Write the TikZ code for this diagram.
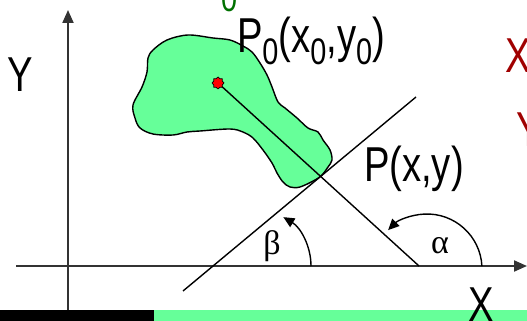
\documentclass[tikz,border=0pt]{standalone}
\usepackage{fontspec}
\usepackage{graphicx}
\setmainfont{Liberation Sans}
\newfontfamily\grk{Liberation Serif}
\usetikzlibrary{arrows.meta,shapes.geometric}
\definecolor{blobgreen}{HTML}{66FF99}
\definecolor{darkred}{HTML}{A00000}
\definecolor{darkgreen}{HTML}{007000}
\newcommand{\bigtxt}[1]{\scalebox{0.78}[1]{\fontsize{49}{49}\selectfont #1}}
\newcommand{\subzero}{\raisebox{-12pt}{\fontsize{37}{37}\selectfont 0}}
\tikzset{
  axis/.style={line width=2pt, draw=black!80, -{Triangle[length=13pt,width=11pt]}},
  thinline/.style={line width=1.4pt, draw=black},
  arcarrow/.style={line width=1.4pt, -{Triangle[length=11pt,width=10pt]}},
  blob/.style={fill=blobgreen, draw=black, line width=1.4pt},
  lbl/.style={inner sep=0pt, outer sep=0pt, anchor=base west},
  grklbl/.style={inner sep=0pt, font=\grk\fontsize{34}{34}\selectfont},
  reddot/.style={star, star points=8, star point ratio=1.3, fill=red, draw=black, line width=0.7pt, minimum size=12pt, inner sep=0pt}
}
\begin{document}
\begin{tikzpicture}[x=1pt,y=1pt]
\useasboundingbox (0,0) rectangle (527,321);
% coordinates
\coordinate (yb) at (68,11);
\coordinate (yt) at (68,311);
\coordinate (xl) at (16,55);
\coordinate (xr) at (527,55);
\coordinate (b1) at (183,30);
\coordinate (b2) at (416,224);
\coordinate (a2) at (419,55);
\coordinate (cb) at (254,55);
\coordinate (ca) at (427,52);
% blob
\draw[blob] plot[smooth cycle, tension=0.55] coordinates {
(167,281) (188,286) (213,283) (230,281) (243,275) (252,269) (260,258) (267,246)
(272,234) (278,219) (285,213) (297,203) (308,193) (318,189) (323,181) (330,171)
(332,161) (328,154) (322,146) (315,141) (300,134) (290,134) (283,139) (277,148)
(272,158) (263,171) (253,183) (243,189) (230,192) (200,190) (187,189) (173,186)
(153,187) (140,193) (135,203) (133,216) (142,234) (147,249) (148,263) (153,271)};
% axes
\draw[axis] (yb) -- (yt);
\draw[axis] (xl) -- (xr);
% lines
\draw[thinline] (b1) -- (b2);
\coordinate (p0c) at (218,238);
\draw[thinline] (p0c) -- (a2);
\node[reddot] (p0) at (p0c) {};
% angle arcs
\draw[arcarrow] (cb) ++(0:57) arc[start angle=0, end angle=59, radius=57];
\draw[arcarrow] (ca) ++(3:55) arc[start angle=3, end angle=135, radius=55];
\node[grklbl] (beta) at (272,75) {β};
\node[grklbl] (alpha) at (440,75) {α};
% bottom bar
\fill[black] (0,0) rectangle (154,11);
\fill[blobgreen] (154,0) rectangle (527,11);
% labels
\node[lbl] (ylab) at (8,229) {\bigtxt{Y}};
\node[lbl] (xlab) at (468,-1) {\bigtxt{X}};
\node[lbl] (plab) at (364,139) {\bigtxt{P(x,y)}};
\node[lbl] (p0lab) at (237,268) {\bigtxt{P\subzero(x\subzero,y\subzero)}};
\node[lbl, text=darkred] (rx) at (505,248) {\bigtxt{X}};
\node[lbl, text=darkred] (ry) at (516,174) {\bigtxt{Y}};
\node[lbl, text=darkgreen] (g0) at (221,309) {\scalebox{0.78}[1]{\fontsize{37}{37}\selectfont 0}};
\end{tikzpicture}
\end{document}
